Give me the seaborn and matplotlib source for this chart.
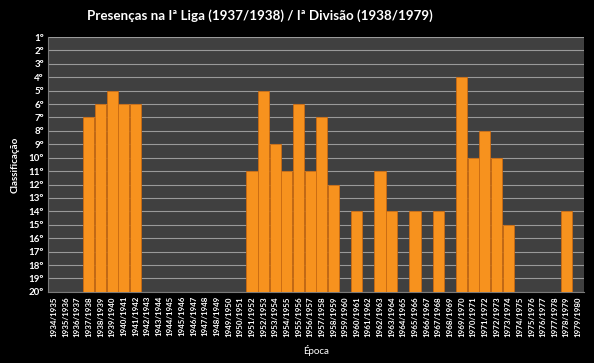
import numpy as np
import pandas as pd
import seaborn as sns
import matplotlib.pyplot as plt

# seasons 1934/1935 .. 1979/1980
epocas = [f"{y}/{y + 1}" for y in range(1934, 1980)]

# final league position per season (None = not in top flight)
classificacao = [
    None, None, None, 7, 6, 5, 6, 6,             # 1934/35 - 1941/42
    None, None, None, None, None, None, None, None, None,  # 1942/43 - 1950/51
    11, 5, 9, 11, 6, 11, 7, 12,                  # 1951/52 - 1958/59
    None, 14, None, 11, 14, None, 14, None, 14,  # 1959/60 - 1967/68
    None, 4, 10, 8, 10, 15,                      # 1968/69 - 1973/74
    None, None, None, None, 14, None,            # 1974/75 - 1979/80
]

posicoes = list(range(1, 21))
ultimo = 20

# bars grow up from 20º, so plot the distance from the bottom
df = pd.DataFrame({
    "Época": epocas,
    "altura": [np.nan if c is None else ultimo - c for c in classificacao],
})

sns.set_style("dark")
plt.rcParams["font.family"] = ["Lato", "DejaVu Sans"]

fig, ax = plt.subplots(figsize=(5.94, 3.63), dpi=100)
fig.patch.set_facecolor("black")
fig.subplots_adjust(left=0.081, right=0.983, top=0.898, bottom=0.196)
ax.set_facecolor("#404040")

sns.barplot(
    data=df, x="Época", y="altura", order=epocas,
    color="#F7921E", saturation=1, width=0.96,
    edgecolor="#C96A12", linewidth=0.6, ax=ax, zorder=3,
)

ax.set_ylim(0, ultimo - 1)
ax.set_yticks([ultimo - p for p in posicoes])
ax.set_yticklabels([f"{p}º" for p in posicoes], color="white",
                   fontsize=7, fontweight="bold")
ax.set_xticks(range(len(epocas)))
ax.set_xticklabels(epocas, rotation=90, color="white",
                   fontsize=5.7, fontweight="bold")
ax.tick_params(axis="both", length=0, pad=3)

ax.grid(axis="y", color="#9a9a9a", linewidth=0.8, zorder=1)
ax.grid(axis="x", visible=False)
for side in ["top", "right"]:
    ax.spines[side].set_visible(False)
for side in ["left", "bottom"]:
    ax.spines[side].set_color("#7a7a7a")
    ax.spines[side].set_linewidth(0.8)

ax.set_xlabel("Época", color="white", fontsize=7, labelpad=6)
ax.set_ylabel("Classificação", color="white", fontsize=7,
              fontweight="bold", labelpad=6)

fig.text(260 / 594, 1 - 16 / 363,
         "Presenças na Iª Liga (1937/1938) / Iª Divisão (1938/1979)",
         color="white", fontsize=9.6, fontweight="bold",
         ha="center", va="center")

fig.savefig("out.png", dpi=100, facecolor=fig.get_facecolor())
